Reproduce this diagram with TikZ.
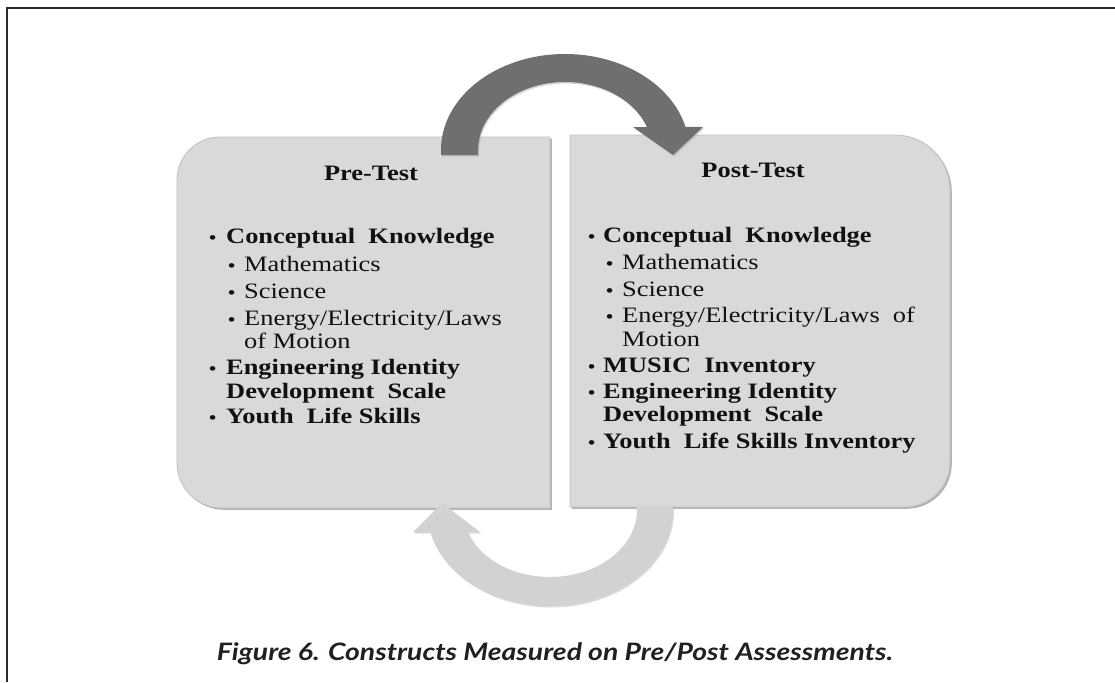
\documentclass[tikz,border=0pt]{standalone}
\usepackage{fontspec}
\setmainfont{Liberation Serif}
\newfontfamily\serifw[FakeStretch=1.2]{Liberation Serif}
\newfontfamily\capfont[FakeStretch=1.18]{Lato}
\usetikzlibrary{shadows}
\definecolor{boxfill}{HTML}{D9D9D9}
\definecolor{boxedge}{HTML}{C0C0C0}
\definecolor{darkarrow}{HTML}{6F6F6F}
\definecolor{lightarrow}{HTML}{D2D2D2}
\definecolor{framecol}{HTML}{2A2A2A}
\definecolor{textcol}{HTML}{111111}
\definecolor{capcol}{HTML}{231F20}
\tikzset{
  panel/.style={fill=boxfill, draw=boxedge, line width=0.8pt,
    drop shadow={shadow xshift=1.8pt, shadow yshift=-1.8pt, fill=black!50, opacity=0.6}},
  itm/.style={anchor=base west, inner sep=0pt, text=textcol,
    font=\serifw\fontsize{22}{26}\selectfont},
  itmb/.style={itm, font=\serifw\bfseries\fontsize{22}{26}\selectfont},
  bul/.style={anchor=base west, inner sep=0pt, text=textcol,
    font=\serifw\bfseries\fontsize{17}{20}\selectfont},
  head/.style={anchor=base, inner sep=0pt, text=textcol,
    font=\serifw\bfseries\fontsize{22}{26}\selectfont},
}
\begin{document}
\begin{tikzpicture}[x=1pt,y=-1pt]
\useasboundingbox (0,0) rectangle (1115,682);
% frame
\draw[framecol, line width=2pt] (6.5,682) -- (6.5,8) -- (1115,8);

% panels
\path[panel] (550,137) -- (550,508) -- (222,508)
  arc[start angle=90, end angle=180, radius=45] -- (177,180)
  arc[start angle=180, end angle=270, radius=43] -- cycle;
\path[panel] (570,135) -- (895,135)
  arc[start angle=270, end angle=360, radius=55] -- (950,462)
  arc[start angle=0, end angle=90, radius=45] -- (570,507) -- cycle;

% top arrow (pre -> post)
\fill[darkarrow, drop shadow={shadow xshift=1pt, shadow yshift=-1.5pt, fill=black!40, opacity=0.4}]
  (441,155) -- (441,150)
  arc[start angle=180, end angle=346.1, x radius=124, y radius=96]
  -- (703,127) -- (673,155) -- (633,127) -- (646.9,127)
  arc[start angle=340.2, end angle=180, x radius=87, y radius=68]
  -- (478,155) -- cycle;

% bottom arrow (post -> pre)
\fill[lightarrow, drop shadow={shadow xshift=1pt, shadow yshift=-1.5pt, fill=black!35, opacity=0.4}]
  (673,505) -- (673,510)
  arc[start angle=0, end angle=166.75, x radius=123, y radius=96]
  -- (413,532) -- (442,503) -- (480,532) -- (467.8,532)
  arc[start angle=160.83, end angle=0, x radius=87, y radius=67]
  -- (637,505) -- cycle;

% left panel text
\node[head] (preh) at (371,180) {Pre-Test};
\node[bul] (lb1) at (209,243) {\textbullet};
\node[itmb] (l1) at (226,243) {Conceptual\ \ Knowledge};
\node[bul] (lb2) at (228,271) {\textbullet};
\node[itm] (l2) at (244,271) {Mathematics};
\node[bul] (lb3) at (228,298) {\textbullet};
\node[itm] (l3) at (244,298) {Science};
\node[bul] (lb4) at (228,325) {\textbullet};
\node[itm] (l4) at (244,325) {Energy/Electricity/Laws};
\node[itm] (l5) at (244,348) {of Motion};
\node[bul] (lb6) at (209,374) {\textbullet};
\node[itmb] (l6) at (226,374) {Engineering Identity};
\node[itmb] (l7) at (226,398) {Development\ \ Scale};
\node[bul] (lb8) at (209,423) {\textbullet};
\node[itmb] (l8) at (226,423) {Youth\ \ Life Skills};

% right panel text
\node[head] (posth) at (753,177) {Post-Test};
\node[bul] (rb1) at (588,242) {\textbullet};
\node[itmb] (r1) at (603,242) {Conceptual\ \ Knowledge};
\node[bul] (rb2) at (606,269) {\textbullet};
\node[itm] (r2) at (622,269) {Mathematics};
\node[bul] (rb3) at (606,296) {\textbullet};
\node[itm] (r3) at (622,296) {Science};
\node[bul] (rb4) at (606,322) {\textbullet};
\node[itm] (r4) at (622,322) {Energy/Electricity/Laws\ \ of};
\node[itm] (r5) at (622,346) {Motion};
\node[bul] (rb6) at (588,372) {\textbullet};
\node[itmb] (r6) at (603,372) {MUSIC\ \ Inventory};
\node[bul] (rb7) at (588,398) {\textbullet};
\node[itmb] (r7) at (603,398) {Engineering Identity};
\node[itmb] (r8) at (603,421) {Development\ \ Scale};
\node[bul] (rb9) at (588,448) {\textbullet};
\node[itmb] (r9) at (603,448) {Youth\ \ Life Skills Inventory};

% caption
\node[anchor=base, inner sep=0pt, text=capcol,
  font=\capfont\bfseries\itshape\fontsize{24}{28}\selectfont] (cap) at (555,660)
  {Figure 6. Constructs Measured on Pre/Post Assessments.};
\end{tikzpicture}
\end{document}
